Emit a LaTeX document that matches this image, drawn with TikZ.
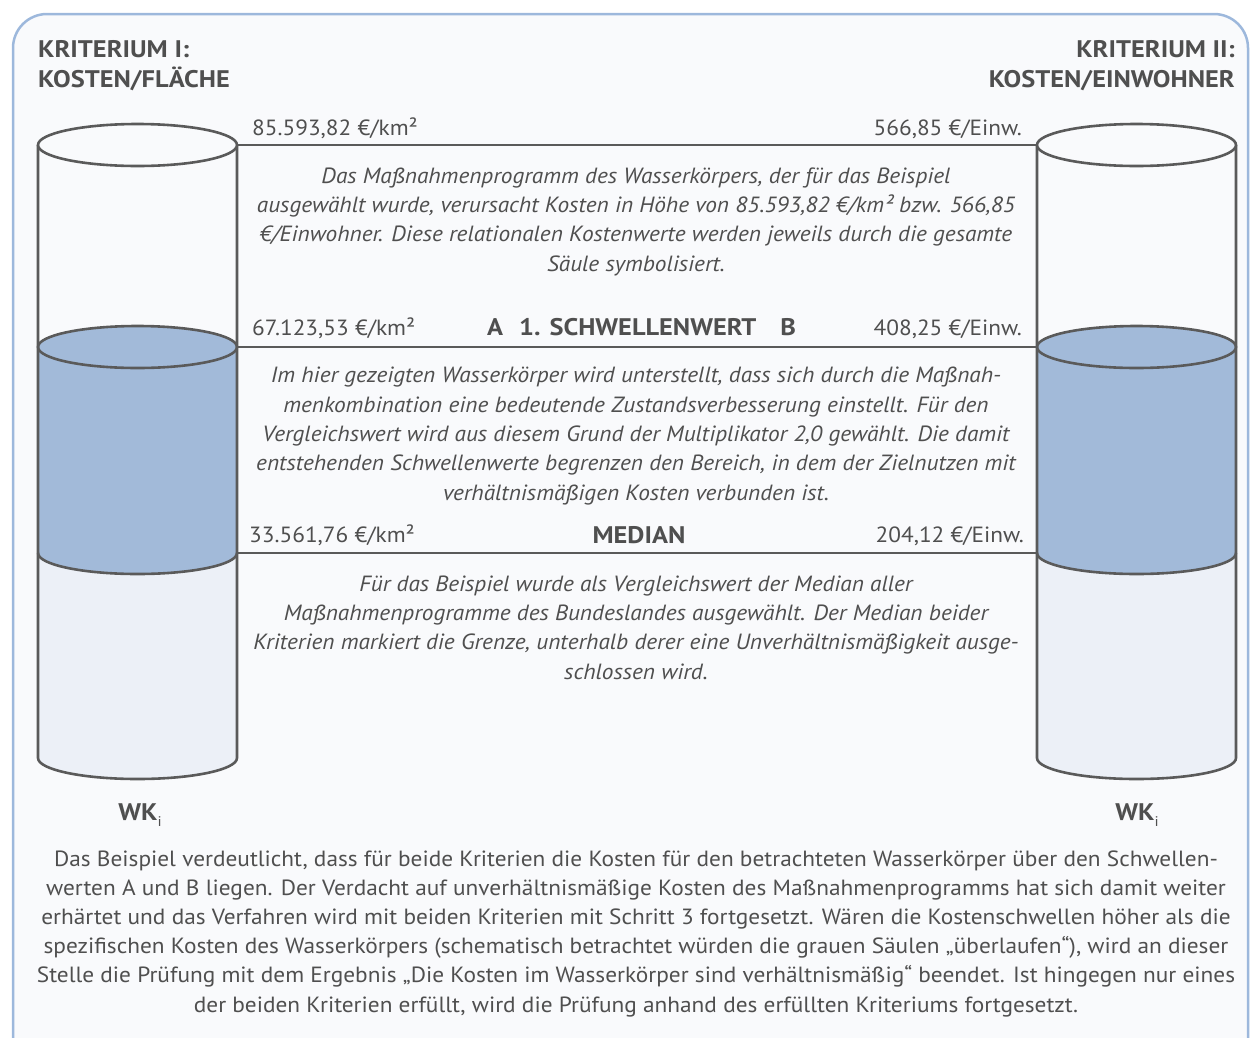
\documentclass[tikz,border=0pt]{standalone}
\usepackage{fontspec}
\setmainfont{PT Sans}[FakeStretch=1.06]
\newfontfamily\hdrfont{PT Sans}[FakeStretch=1.1]
\definecolor{framebd}{HTML}{9DB8DC}
\definecolor{framebg}{HTML}{F9FAFC}
\definecolor{cylline}{HTML}{5A5A5A}
\definecolor{waterblue}{HTML}{A2BAD9}
\definecolor{waterlow}{HTML}{ECF0F7}
\definecolor{txt}{HTML}{4F4F4F}
\tikzset{
  frame/.style={draw=framebd, fill=framebg, line width=2.5pt, rounded corners=34pt},
  cyl/.style={draw=cylline, line width=2.6pt},
  level/.style={draw=cylline, line width=2.4pt},
  hdr/.style={inner sep=0pt, text=txt, font=\hdrfont\fontsize{24}{30}\selectfont\bfseries},
  val/.style={inner sep=0pt, text=txt, font=\fontsize{22}{29}\selectfont},
  boldlbl/.style={inner sep=0pt, text=txt, font=\hdrfont\fontsize{24}{29}\selectfont\bfseries},
  note/.style={inner sep=0pt, text=txt, align=center, font=\fontsize{22}{29.3}\selectfont\itshape},
  body/.style={inner sep=0pt, text=txt, align=center, font=\fontsize{22}{29.2}\selectfont},
}
% one cylinder, centred at x = #1
\newcommand\column[2]{%
  \begin{scope}[xshift=#1pt]
    \def\rx{99.5}\def\ry{21}
    % lower, light part
    \fill[waterlow] (-\rx,553) arc[start angle=180,end angle=0,x radius=\rx,y radius=\ry]
      -- (\rx,758) arc[start angle=0,end angle=180,x radius=\rx,y radius=\ry] -- cycle;
    % blue part between median and threshold
    \fill[waterblue] (-\rx,347) -- (-\rx,553) arc[start angle=180,end angle=0,x radius=\rx,y radius=\ry]
      -- (\rx,347) -- cycle;
    \filldraw[cyl, fill=waterblue] (0,347) ellipse[x radius=\rx, y radius=\ry];
    \draw[cyl] (-\rx,553) arc[start angle=180,end angle=0,x radius=\rx,y radius=\ry];
    % outline
    \draw[cyl] (-\rx,145) -- (-\rx,758) arc[start angle=180,end angle=0,x radius=\rx,y radius=\ry] -- (\rx,145);
    \filldraw[cyl, fill=framebg] (0,145) ellipse[x radius=\rx, y radius=\ry];
    % level points
    \coordinate (#2-top-w) at (-\rx,145);
    \coordinate (#2-top-e) at (\rx,145);
    \coordinate (#2-thr-w) at (-\rx,347);
    \coordinate (#2-thr-e) at (\rx,347);
    \coordinate (#2-med-w) at (-\rx,553);
    \coordinate (#2-med-e) at (\rx,553);
  \end{scope}}
\newcommand\wklabel{WK\raisebox{-6pt}{\fontsize{14}{14}\selectfont\mdseries i}}
\begin{document}
\begin{tikzpicture}[x=1pt,y=-1pt]
\useasboundingbox (0,0) rectangle (1250,1037);
\begin{scope}
  \clip (0,0) rectangle (1250,1037);
  \path[frame] (13,14) rectangle (1248,1080);
\end{scope}

\column{137.5}{L}
\column{1136.5}{R}

% level lines
\draw[level] (L-top-e) -- (R-top-w);
\draw[level] (L-thr-e) -- (R-thr-w);
\draw[level] (L-med-e) -- (R-med-w);

% headings (anchored at the baseline of their last line)
\node[hdr, anchor=base west, align=left] (hl) at (38,87) {KRITERIUM I:\\KOSTEN/FLÄCHE};
\node[hdr, anchor=base east, align=right] (hr) at (1235,87) {KRITERIUM II:\\KOSTEN/EINWOHNER};

% values
\node[val, anchor=base west] (v1l) at (252,135) {85.593,82 €/km²};
\node[val, anchor=base east] (v1r) at (1022,135) {566,85 €/Einw.};
\node[val, anchor=base west] (v2l) at (252,335) {67.123,53 €/km²};
\node[val, anchor=base east] (v2r) at (1022,335) {408,25 €/Einw.};
\node[val, anchor=base west] (v3l) at (249,542) {33.561,76 €/km²};
\node[val, anchor=base east] (v3r) at (1024,542) {204,12 €/Einw.};

\node[boldlbl, anchor=base west] (thr) at (487,335) {A\hspace{16pt}1. SCHWELLENWERT\hspace{24pt}B};
\node[boldlbl, anchor=base] (med) at (639,543) {MEDIAN};

% explanations
\node[note, anchor=base] (n1) at (636,271) {Das Maßnahmenprogramm des Wasserkörpers, der für das Beispiel\\
ausgewählt wurde, verursacht Kosten in Höhe von 85.593,82 €/km² bzw. 566,85\\
€/Einwohner. Diese relationalen Kostenwerte werden jeweils durch die gesamte\\
Säule symbolisiert.};
\node[note, anchor=base] (n2) at (636,500) {Im hier gezeigten Wasserkörper wird unterstellt, dass sich durch die Maßnah-\\
menkombination eine bedeutende Zustandsverbesserung einstellt. Für den\\
Vergleichswert wird aus diesem Grund der Multiplikator 2,0 gewählt. Die damit\\
entstehenden Schwellenwerte begrenzen den Bereich, in dem der Zielnutzen mit\\
verhältnismäßigen Kosten verbunden ist.};
\node[note, anchor=base] (n3) at (636,679) {Für das Beispiel wurde als Vergleichswert der Median aller\\
Maßnahmenprogramme des Bundeslandes ausgewählt. Der Median beider\\
Kriterien markiert die Grenze, unterhalb derer eine Unverhältnismäßigkeit ausge-\\
schlossen wird.};

% column labels
\node[boldlbl, anchor=base] (wkl) at (140,820) {\wklabel};
\node[boldlbl, anchor=base] (wkr) at (1137,820) {\wklabel};

% summary
\node[body, anchor=base] (sum) at (636,1012) {Das Beispiel verdeutlicht, dass für beide Kriterien die Kosten für den betrachteten Wasserkörper über den Schwellen-\\
werten A und B liegen. Der Verdacht auf unverhältnismäßige Kosten des Maßnahmenprogramms hat sich damit weiter\\
erhärtet und das Verfahren wird mit beiden Kriterien mit Schritt 3 fortgesetzt. Wären die Kostenschwellen höher als die\\
spezifischen Kosten des Wasserkörpers (schematisch betrachtet würden die grauen Säulen „überlaufen“), wird an dieser\\
Stelle die Prüfung mit dem Ergebnis „Die Kosten im Wasserkörper sind verhältnismäßig“ beendet. Ist hingegen nur eines\\
der beiden Kriterien erfüllt, wird die Prüfung anhand des erfüllten Kriteriums fortgesetzt.};
\end{tikzpicture}
\end{document}
